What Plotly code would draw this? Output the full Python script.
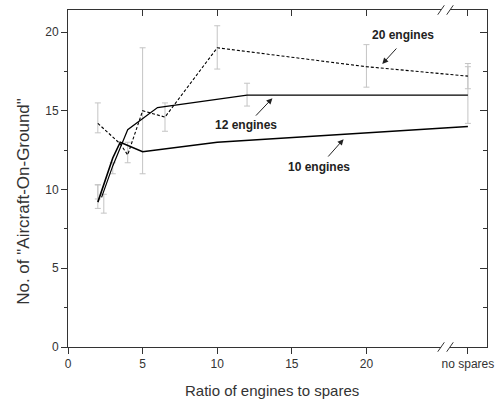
import plotly.graph_objects as go

NS = 26.8  # axis position of the "no spares" category
BRK = 25.3

x10 = [2, 2.5, 3, 3.5, 5, 10, NS]
y10 = [9.2, 10.6, 12.0, 13.0, 12.4, 13.0, 14.0]
x12 = [2.25, 3, 4, 5, 6, 12, NS]
y12 = [9.5, 11.5, 13.8, 14.5, 15.2, 16.0, 16.0]
x20 = [2, 3.5, 4, 5, 6.5, 10, 20, NS]
y20 = [14.2, 12.9, 12.2, 15.0, 14.6, 19.0, 17.8, 17.2]

ex = [2, 2.4, 3, 4, 5, 6.5, 10, 12, 20, NS, NS]
elo = [13.6, 8.5, 11.0, 11.7, 11.0, 13.7, 17.65, 15.3, 16.5, 16.4, 14.2]
ehi = [15.5, 9.7, 11.7, 13.0, 19.0, 15.5, 20.4, 16.75, 19.2, 18.0, 17.8]
ex2 = [2, 2]
elo2 = [8.8, 9.4]
ehi2 = [10.3, 10.3]

xticks = [0, 5, 10, 15, 20, NS]
xlabels = ["0", "5", "10", "15", "20", "no spares"]

FONT = "Liberation Sans, Arial, sans-serif"
EC = "#c4c4c4"
AX = "#333333"

fig = go.Figure()

def err_trace(xs, lo, hi):
    mid = [(a + b) / 2 for a, b in zip(lo, hi)]
    half = [(b - a) / 2 for a, b in zip(lo, hi)]
    return go.Scatter(x=xs, y=mid, mode="markers", marker=dict(size=0.1, color="rgba(0,0,0,0)"),
                      error_y=dict(type="data", array=half, symmetric=True, color=EC, thickness=1, width=3),
                      showlegend=False, hoverinfo="skip")

fig.add_trace(err_trace(ex, elo, ehi))
fig.add_trace(err_trace(ex2, elo2, ehi2))

fig.add_trace(go.Scatter(x=x20, y=y20, mode="lines", line=dict(color="black", width=1.1, dash="3px,2px"),
                         showlegend=False))
fig.add_trace(go.Scatter(x=x12, y=y12, mode="lines", line=dict(color="black", width=1.2), showlegend=False))
fig.add_trace(go.Scatter(x=x10, y=y10, mode="lines", line=dict(color="black", width=1.6), showlegend=False))
fig.add_trace(go.Scatter(x=[None], y=[None], xaxis="x2", yaxis="y2", showlegend=False, hoverinfo="skip"))

XR = [0, 28.08]
YR = [0, 21.4]
fig.update_layout(
    width=504, height=402,
    margin=dict(l=68, r=12, t=10, b=55),
    paper_bgcolor="white", plot_bgcolor="white",
    font=dict(family=FONT, size=12, color=AX),
    xaxis=dict(range=XR, tickvals=xticks, ticktext=xlabels, ticks="outside", ticklen=6, tickcolor=AX,
               showline=True, linecolor=AX, linewidth=1, showgrid=False, zeroline=False),
    yaxis=dict(range=YR, tickvals=[0, 5, 10, 15, 20], ticks="outside", ticklen=6, tickcolor=AX,
               minor=dict(tickvals=[2.5, 7.5, 12.5, 17.5], ticks="outside", ticklen=3, tickcolor=AX),
               showline=True, linecolor=AX, linewidth=1, showgrid=False, zeroline=False),
    xaxis2=dict(range=XR, overlaying="x", side="top", tickvals=[5, 10, 15, 20, NS], showticklabels=False,
                ticks="inside", ticklen=6, tickcolor=AX, showline=True, linecolor=AX, linewidth=1,
                showgrid=False, zeroline=False),
    yaxis2=dict(range=YR, overlaying="y", side="right", tickvals=[5, 10, 15, 20], showticklabels=False,
                ticks="inside", ticklen=7, tickcolor=AX,
                minor=dict(tickvals=[2.5, 7.5, 12.5, 17.5], ticks="inside", ticklen=4, tickcolor=AX),
                showline=True, linecolor=AX, linewidth=1, showgrid=False, zeroline=False),
)

# axis titles
fig.add_annotation(text="Ratio of engines to spares", xref="paper", yref="paper", x=0.488, y=-0.128,
                   xanchor="center", yanchor="middle", showarrow=False, font=dict(family=FONT, size=15, color=AX))
fig.add_annotation(text='No. of "Aircraft-On-Ground"', xref="paper", yref="paper", x=-0.108, y=0.433,
                   xanchor="center", yanchor="middle", textangle=-90, showarrow=False,
                   font=dict(family=FONT, size=17, color=AX))

# axis breaks
for yp in [0, 1]:
    fig.add_shape(type="rect", xref="x", yref="paper", x0=BRK - 0.3, x1=BRK + 0.3, y0=yp - 0.006, y1=yp + 0.006,
                  fillcolor="white", line=dict(width=0), layer="above")
    for dx in [-0.3, 0.3]:
        fig.add_shape(type="line", xref="x", yref="paper", x0=BRK + dx - 0.22, x1=BRK + dx + 0.22,
                      y0=yp - 0.014, y1=yp + 0.014, line=dict(color=AX, width=1), layer="above")

ann_font = dict(family=FONT, size=12, color="#222")
labels = [("<b>20 engines</b>", 22.45, 19.8),
          ("<b>12 engines</b>", 11.92, 14.1),
          ("<b>10 engines</b>", 16.8, 11.4)]
for txt, tx, ty in labels:
    fig.add_annotation(x=tx, y=ty, text=txt, showarrow=False, font=ann_font, xref="x", yref="y")

arrows = [(22.1, 19.05, 21.06, 17.97), (12.5, 14.6, 13.7, 15.8), (17.35, 12.0, 18.47, 13.2)]
for x0, y0, x1, y1 in arrows:
    fig.add_annotation(x=x1, y=y1, ax=x0, ay=y0, axref="x", ayref="y", xref="x", yref="y", text="",
                       showarrow=True, arrowhead=2, arrowsize=1.2, arrowwidth=1, arrowcolor="#222")

fig.write_html("out.html")
